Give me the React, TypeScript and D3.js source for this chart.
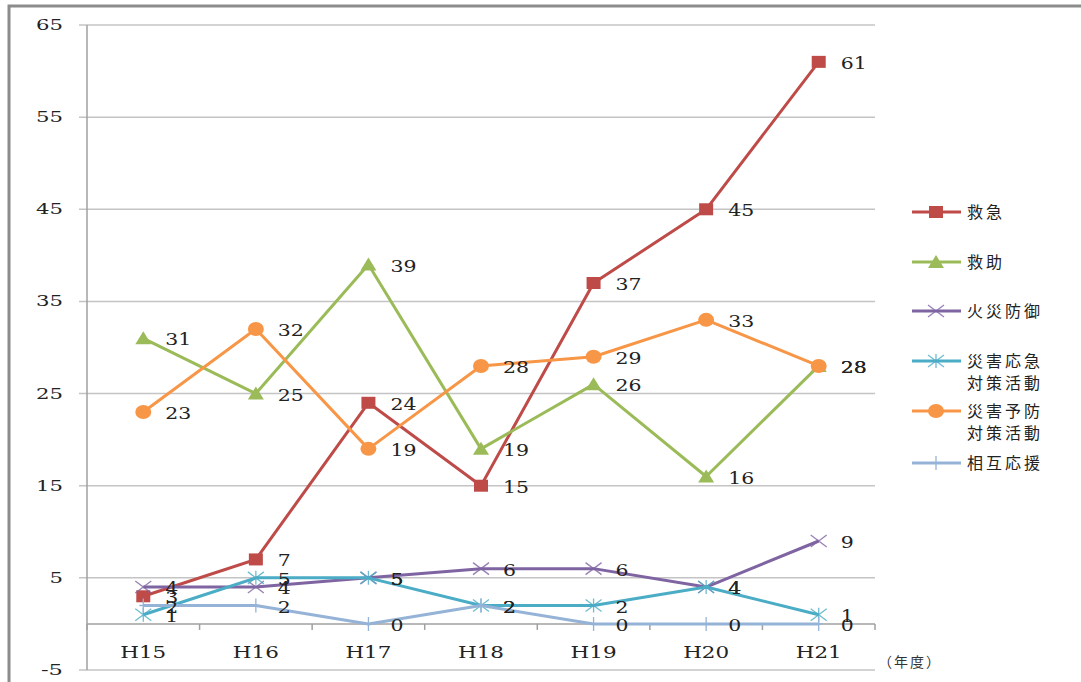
import React, { useEffect, useRef } from 'react';
import * as d3 from 'd3';

const years = ['H15', 'H16', 'H17', 'H18', 'H19', 'H20', 'H21'];
const yTicks = [65, 55, 45, 35, 25, 15, 5, -5];

const kyukyu = [3, 7, 24, 15, 37, 45, 61];
const kyujo = [31, 25, 39, 19, 26, 16, 28];
const kasai = [4, 4, 5, 6, 6, 4, 9];
const oukyu = [1, 5, 5, 2, 2, 4, 1];
const yobou = [23, 32, 19, 28, 29, 33, 28];
const sougo = [2, 2, 0, 2, 0, 0, 0];

const seriesNames = [['救急'], ['救助'], ['火災防御'], ['災害応急', '対策活動'], ['災害予防', '対策活動'], ['相互応援']];
const seriesColors = ['#BE4B48', '#9BBB59', '#7F64A2', '#4BACC6', '#F79646', '#95B3D7'];
const seriesMarkers = ['square', 'triangle', 'x', 'star', 'circle', 'plus'];
const seriesValues = [kyukyu, kyujo, kasai, oukyu, yobou, sougo];

const serif = '"DejaVu Serif", serif';
const cjk = '"Noto Sans CJK JP", sans-serif';

function drawMarker(g: any, type: string, x: number, y: number, color: string) {
  if (type === 'square') {
    g.append('rect').attr('x', x - 7).attr('y', y - 6).attr('width', 14).attr('height', 12).attr('fill', color);
  } else if (type === 'triangle') {
    g.append('path').attr('d', `M${x},${y - 7}L${x + 8},${y + 6}L${x - 8},${y + 6}Z`).attr('fill', color);
  } else if (type === 'circle') {
    g.append('ellipse').attr('cx', x).attr('cy', y).attr('rx', 8).attr('ry', 7).attr('fill', color);
  } else if (type === 'x') {
    g.append('path').attr('d', `M${x - 8},${y - 6}L${x + 8},${y + 6}M${x - 8},${y + 6}L${x + 8},${y - 6}`)
      .attr('stroke', color).attr('stroke-width', 1.3).attr('opacity', 0.8);
  } else if (type === 'star') {
    g.append('path').attr('d', `M${x - 8},${y - 6}L${x + 8},${y + 6}M${x - 8},${y + 6}L${x + 8},${y - 6}M${x},${y - 7}L${x},${y + 7}`)
      .attr('stroke', color).attr('stroke-width', 1.3).attr('opacity', 0.8);
  } else if (type === 'plus') {
    g.append('path').attr('d', `M${x},${y - 7}L${x},${y + 7}M${x - 4},${y}L${x + 4},${y}`)
      .attr('stroke', color).attr('stroke-width', 1.3);
  }
}

export default function App() {
  const ref = useRef<SVGSVGElement>(null);

  useEffect(() => {
    const svg = d3.select(ref.current);
    svg.selectAll('*').remove();

    const x = d3.scalePoint<string>().domain(years).range([87, 875]).padding(0.5);
    const y = d3.scaleLinear().domain([-5, 65]).range([670, 25]);
    const step = x.step();

    // outer frame
    svg.append('rect').attr('x', 9).attr('y', 6).attr('width', 1090).attr('height', 700)
      .attr('fill', 'white').attr('stroke', '#8c8c8c').attr('stroke-width', 3);

    // grid
    svg.selectAll('.grid').data(yTicks).enter().append('line')
      .attr('x1', 79).attr('x2', 875)
      .attr('y1', (d) => y(d)).attr('y2', (d) => y(d))
      .attr('stroke', '#c4c4c4').attr('stroke-width', 1.5);

    svg.selectAll('.ylab').data(yTicks).enter().append('text')
      .attr('x', 63).attr('y', (d) => y(d) + 5)
      .attr('text-anchor', 'end')
      .attr('textLength', (d) => (Math.abs(d) >= 10 ? 27 : d < 0 ? 22 : 13.5)).attr('lengthAdjust', 'spacingAndGlyphs')
      .style('font-family', serif).style('font-size', '15px')
      .attr('fill', '#222')
      .text((d) => (d < 0 ? '-' + Math.abs(d) : String(d)));

    // y axis line
    svg.append('line').attr('x1', 87).attr('x2', 87).attr('y1', y(65)).attr('y2', y(-5))
      .attr('stroke', '#a0a0a0').attr('stroke-width', 1.5);

    // x axis at 0
    const y0 = y(0);
    svg.append('line').attr('x1', 87).attr('x2', 875).attr('y1', y0).attr('y2', y0)
      .attr('stroke', '#a0a0a0').attr('stroke-width', 1.5);
    svg.selectAll('.xtick').data(d3.range(years.length + 1)).enter().append('line')
      .attr('x1', (i) => 87 + i * step).attr('x2', (i) => 87 + i * step)
      .attr('y1', y0).attr('y2', y0 + 6)
      .attr('stroke', '#a0a0a0').attr('stroke-width', 1.5);

    svg.selectAll('.xlab').data(years).enter().append('text')
      .attr('x', (d) => (x(d) as number)).attr('y', 658)
      .attr('text-anchor', 'middle')
      .attr('textLength', 46).attr('lengthAdjust', 'spacingAndGlyphs')
      .style('font-family', serif).style('font-size', '17px')
      .attr('fill', '#222')
      .text((d) => d);

    svg.append('text').attr('x', 878).attr('y', 667)
      .style('font-family', cjk).style('font-size', '14px').style('letter-spacing', '2px')
      .attr('fill', '#333').text('（年度）');

    // series
    const line = d3.line<number>().x((_, i) => x(years[i]) as number).y((d) => y(d));
    seriesValues.forEach((vals, si) => {
      const g = svg.append('g');
      g.append('path').datum(vals).attr('d', line).attr('fill', 'none')
        .attr('stroke', seriesColors[si]).attr('stroke-width', 3).attr('stroke-linejoin', 'round');
      vals.forEach((v, i) => drawMarker(g, seriesMarkers[si], x(years[i]) as number, y(v), seriesColors[si]));
    });

    seriesValues.forEach((vals) => {
      svg.append('g').selectAll('text').data(vals).enter().append('text')
        .attr('x', (_, i) => (x(years[i]) as number) + 22)
        .attr('y', (d) => y(d) + 7)
        .attr('textLength', (d) => String(d).length * 13).attr('lengthAdjust', 'spacingAndGlyphs')
        .style('font-family', serif).style('font-size', '16px')
        .attr('fill', '#222')
        .text((d) => d);
    });

    // legend
    const legendY = [212, 262, 311, 361, 411, 463];
    seriesNames.forEach((names, si) => {
      const g = svg.append('g');
      const ly = legendY[si];
      g.append('line').attr('x1', 912).attr('x2', 961).attr('y1', ly).attr('y2', ly)
        .attr('stroke', seriesColors[si]).attr('stroke-width', 3);
      drawMarker(g, seriesMarkers[si], 936, ly, seriesColors[si]);
      names.forEach((n, k) => {
        g.append('text').attr('x', 967).attr('y', ly + 6 + k * 22)
          .style('font-family', cjk).style('font-size', '16px').style('letter-spacing', '3px')
          .attr('fill', '#222').text(n);
      });
    });
  }, []);

  return <svg ref={ref} width={1081} height={682} style={{ position: 'absolute', left: 0, top: 0 }} />;
}
